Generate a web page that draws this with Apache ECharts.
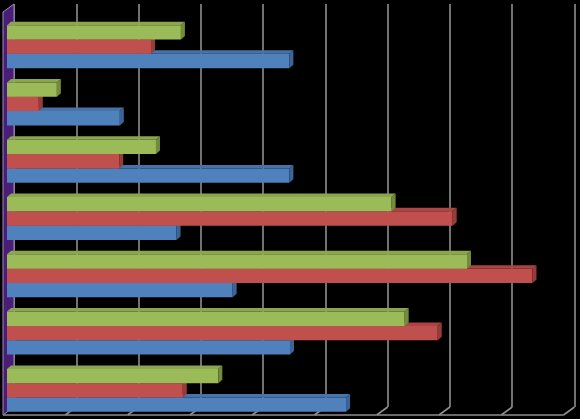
<!DOCTYPE html>
<html>
<head>
<meta charset="utf-8">
<script src="https://cdn.jsdelivr.net/npm/echarts@6/dist/echarts.min.js"></script>
<style>html,body{margin:0;padding:0;background:#000;}#c{width:580px;height:419px;}</style>
</head>
<body>
<div id="c"></div>
<script>
// categories listed bottom -> top (as in the source chart)
const categories = ['Category 1','Category 2','Category 3','Category 4','Category 5','Category 6','Category 7'];
const blueValues  = [5.44, 4.54, 3.62, 2.72, 4.53, 1.81, 4.53];
const redValues   = [2.82, 6.91, 8.43, 7.15, 1.80, 0.51, 2.31];
const greenValues = [3.39, 6.38, 7.38, 6.17, 2.39, 0.80, 2.79];
const axisTicks = [0,1,2,3,4,5,6,7,8,9];

const chart = echarts.init(document.getElementById('c'), null, {renderer:'canvas'});

const DX = 4, DY = 3.5;
function barRender(slot, front, top, side){
  return function(params, api){
    const v = api.value(0), cat = api.value(1);
    const end = api.coord([v, cat]);
    const start = api.coord([0, cat]);
    const band = api.size([0,1])[1];
    const h = band * 0.25;
    const yc = end[1] + slot * h;
    const yT = yc - h/2, yB = yc + h/2;
    const x0 = start[0], x1 = end[0];
    return {type:'group', children:[
      {type:'rect', shape:{x:x0, y:yT, width:x1-x0, height:yB-yT}, style:{fill:front}},
      {type:'polygon', shape:{points:[[x0,yT],[x0+DX,yT-DY],[x1+DX,yT-DY],[x1,yT]]}, style:{fill:top}},
      {type:'polygon', shape:{points:[[x1,yT],[x1+DX,yT-DY],[x1+DX,yB-DY],[x1,yB]]}, style:{fill:side}}
    ]};
  };
}
function toData(arr){ return arr.map((v,i)=>[v,i]); }

const FX = -11, FY = 8;
chart.setOption({
  backgroundColor:'#000',
  animation:false,
  grid:[
    {left:7, top:18, width:561, height:402},
    {left:14, top:4, width:560.5, height:403}
  ],
  xAxis:[
    {gridIndex:0, type:'value', min:0, max:9, interval:1, show:false},
    {gridIndex:1, type:'value', min:0, max:9, interval:1,
     axisLine:{show:false}, axisTick:{show:false}, axisLabel:{show:false},
     splitLine:{show:true, lineStyle:{color:'#8f8f8f', width:1.6}}}
  ],
  yAxis:[
    {gridIndex:0, type:'category', data:categories, show:false},
    {gridIndex:1, type:'value', min:0, max:1, show:false, splitLine:{show:false}}
  ],
  series:[
    {type:'custom', xAxisIndex:1, yAxisIndex:1, z:1, silent:true,
     data: axisTicks.map(t=>[t]),
     encode:{x:0},
     renderItem:function(params, api){
       const t = api.value(0);
       const p = api.coord([t, 0]);
       const children = [];
       if (t > 0) {
         children.push({type:'line', shape:{x1:p[0], y1:p[1], x2:p[0]+FX, y2:p[1]+FY}, style:{stroke:'#8f8f8f', lineWidth:1.6}});
         const q = api.coord([t-1, 0]);
         children.push({type:'line', shape:{x1:q[0]+FX, y1:q[1]+FY, x2:p[0]+FX, y2:p[1]+FY}, style:{stroke:'#8f8f8f', lineWidth:1.6}});
       } else {
         const pt = api.coord([0, 1]);
         children.push({type:'polygon', shape:{points:[[pt[0],pt[1]],[p[0],p[1]],[p[0]+FX,p[1]+FY],[pt[0]+FX,pt[1]+FY]]},
           style:{fill:'#4a1d78', stroke:'#9a8fb0', lineWidth:1}});
       }
       return {type:'group', children:children};
     }},
    {type:'custom', xAxisIndex:0, yAxisIndex:0, z:3, name:'Series 1', data:toData(blueValues), encode:{x:0,y:1},
     renderItem:barRender(1, '#4f81bd', '#4573aa', '#3b6598')},
    {type:'custom', xAxisIndex:0, yAxisIndex:0, z:4, name:'Series 2', data:toData(redValues), encode:{x:0,y:1},
     renderItem:barRender(0, '#c0504d', '#a94542', '#983c3a')},
    {type:'custom', xAxisIndex:0, yAxisIndex:0, z:5, name:'Series 3', data:toData(greenValues), encode:{x:0,y:1},
     renderItem:barRender(-1, '#9bbb59', '#8aa64e', '#718c3c')}
  ]
});
</script>
</body>
</html>
